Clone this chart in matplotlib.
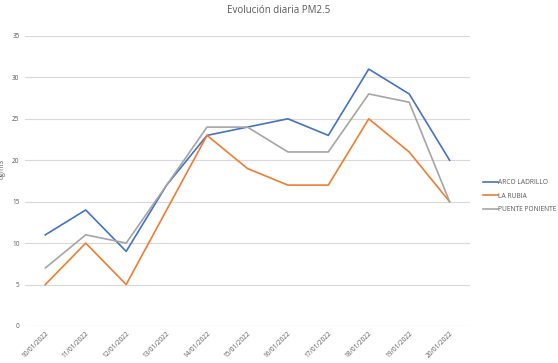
import matplotlib
matplotlib.use("Agg")
import matplotlib.pyplot as plt

# === Data ===
dates = ["10/01/2022", "11/01/2022", "12/01/2022", "13/01/2022", "14/01/2022",
         "15/01/2022", "16/01/2022", "17/01/2022", "18/01/2022", "19/01/2022",
         "20/01/2022"]
arco_ladrillo = [11, 14, 9, 17, 23, 24, 25, 23, 31, 28, 20]
la_rubia = [5, 10, 5, 14, 23, 19, 17, 17, 25, 21, 15]
puente_poniente = [7, 11, 10, 17, 24, 24, 21, 21, 28, 27, 15]
y_ticks = [0, 5, 10, 15, 20, 25, 30, 35]

plt.rcParams["font.family"] = ["Open Sans", "DejaVu Sans"]
text_col = "#595959"

fig = plt.figure(figsize=(5.58, 3.63), dpi=100)
ax = fig.add_axes([0.045, 0.102, 0.797, 0.799])

x = list(range(len(dates)))
ax.plot(x, arco_ladrillo, color="#4472C4", lw=1.2, label="ARCO LADRILLO")
ax.plot(x, la_rubia, color="#ED7D31", lw=1.2, label="LA RUBIA")
ax.plot(x, puente_poniente, color="#A5A5A5", lw=1.2, label="PUENTE PONIENTE")

ax.set_xlim(-0.5, len(dates) - 0.5)
ax.set_ylim(0, 35)
ax.set_yticks(y_ticks)
ax.set_xticks(x)
ax.set_xticklabels(dates, rotation=45, ha="right", va="top",
                   rotation_mode="anchor", fontsize=4.7, color=text_col)
ax.tick_params(axis="y", labelsize=4.7, labelcolor=text_col, length=0, pad=4)
ax.tick_params(axis="x", length=0, pad=3)
ax.grid(axis="y", color="#D9D9D9", lw=0.8)
ax.set_axisbelow(True)
for s in ax.spines.values():
    s.set_visible(False)

ax.set_ylabel("ug/m3", fontsize=4.8, color=text_col)
ax.yaxis.set_label_coords(-0.043, 0.54)
fig.text(0.5, 0.985, "Evolución diaria PM2.5", ha="center", va="top",
         fontsize=7, color=text_col)

ax.legend(loc="center left", bbox_to_anchor=(0.855, 0.46),
          bbox_transform=fig.transFigure, frameon=False, fontsize=4.8,
          handlelength=2.2, handletextpad=0.1, labelspacing=1.0,
          labelcolor=text_col)

fig.savefig("out.png", dpi=100)
